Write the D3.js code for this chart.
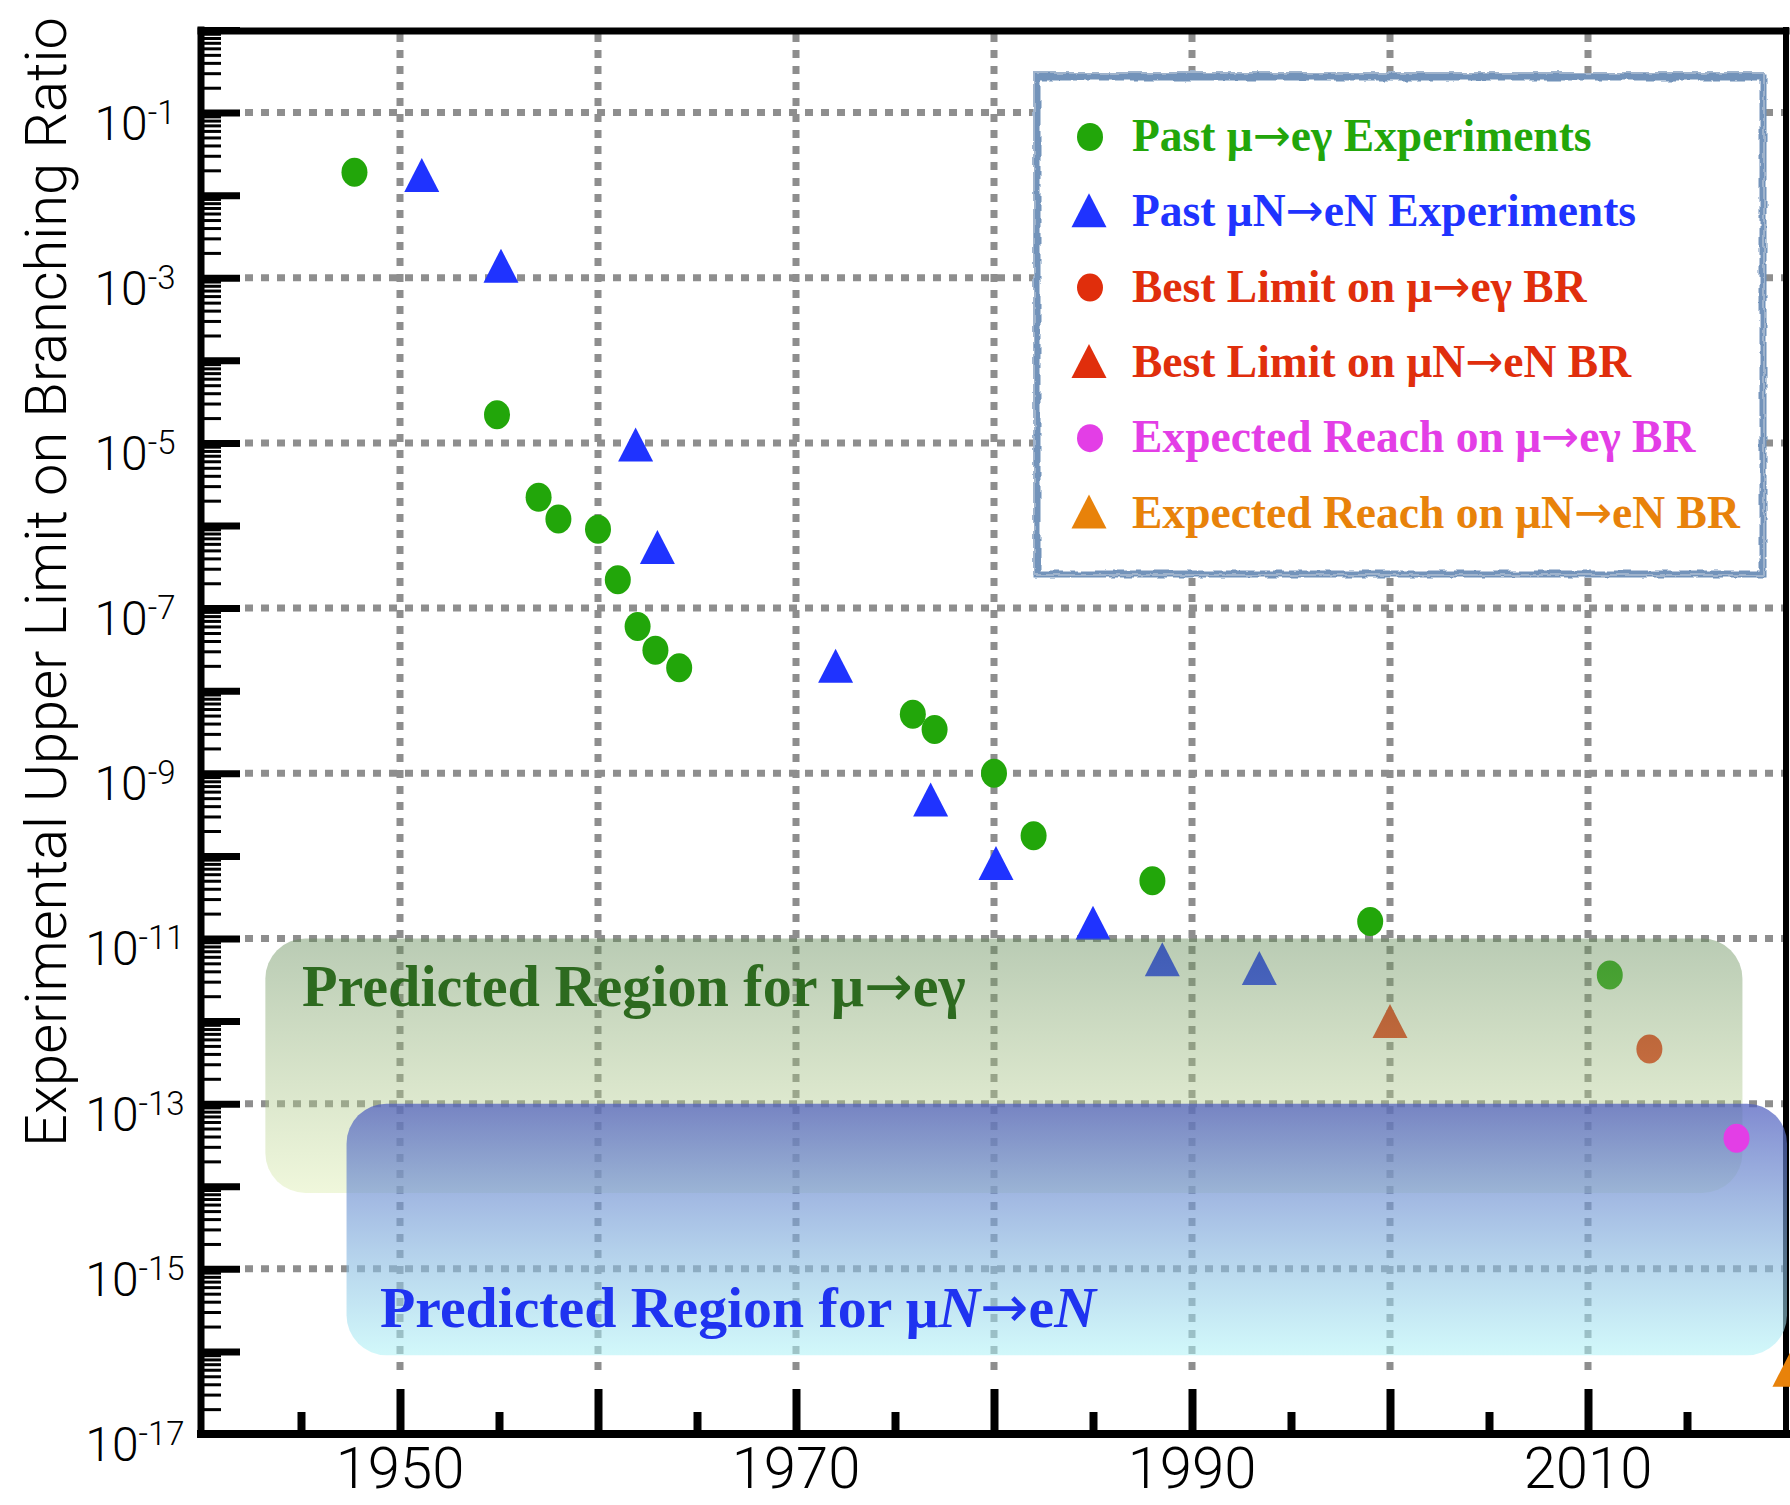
<!DOCTYPE html>
<html>
<head>
<meta charset="utf-8">
<script src="https://cdn.jsdelivr.net/npm/d3@7"></script>
<style>
  body { margin: 0; background: #ffffff; }
  svg { display: block; }
</style>
</head>
<body>
<script>
// values (year, upper limit on branching ratio)
const megYears = [1947.7, 1954.9, 1957.0, 1958.0, 1960.0, 1961.0, 1962.0, 1962.9, 1964.1, 1975.9, 1977.0, 1980.0, 1982.0, 1988.0, 1999.0, 2011.1];
const megLimits = [1.9e-2, 2.2e-5, 2.2e-6, 1.2e-6, 9e-7, 2.2e-7, 6e-8, 3.1e-8, 1.9e-8, 5.2e-9, 3.4e-9, 1e-9, 1.75e-10, 5e-11, 1.6e-11, 3.6e-12];

const mueYears = [1951.1, 1955.1, 1961.9, 1963.0, 1972.0, 1976.8, 1980.1, 1985.0, 1988.5, 1993.4];
const mueLimits = [1.75e-2, 1.4e-3, 9.6e-6, 5.5e-7, 2e-8, 4.8e-10, 8.2e-11, 1.55e-11, 5.6e-12, 4.4e-12];

const bestMegYears = [2013.1];
const bestMegLimits = [4.6e-13];
const bestMueYears = [2000.0];
const bestMueLimits = [1e-12];
const reachMegYears = [2017.5];
const reachMegLimits = [3.8e-14];
const reachMueYears = [2020.2];
const reachMueLimits = [6e-17];

// predicted regions
const regionLabels = ["Predicted Region for μ→eγ", "Predicted Region for μN→eN"];
const regionFrom = [1943.2, 1947.3];
const regionTo = [2017.8, 2020.05];
const regionTop = [1e-11, 1e-13];
const regionBottom = [8.3e-15, 9e-17];

// legend
const legendLabels = [
  "Past μ→eγ Experiments",
  "Past μN→eN Experiments",
  "Best Limit on μ→eγ BR",
  "Best Limit on μN→eN BR",
  "Expected Reach on μ→eγ BR",
  "Expected Reach on μN→eN BR"
];
const legendShapes = ["circle", "triangle", "circle", "triangle", "circle", "triangle"];
const legendColors = ["#22a60a", "#1f33ff", "#e02e0c", "#e02e0c", "#e33ee6", "#e8820a"];

// ticks
const yearMajor = [1950, 1960, 1970, 1980, 1990, 2000, 2010];
const yearMinor = [1945, 1955, 1965, 1975, 1985, 1995, 2005, 2015];
const yearLabels = [1950, 1970, 1990, 2010];
const labelExponents = [-1, -3, -5, -7, -9, -11, -13, -15, -17];
const gridExponents = [-1, -3, -5, -7, -9, -11, -13, -15];

const width = 1790;
const height = 1505;
const sans = "Roboto, 'Liberation Sans', Arial, sans-serif";
const serif = "'Liberation Serif', 'DejaVu Serif', serif";

let x = d3.scaleLinear().domain([1940, 2020]).range([202, 1786]);
let y = d3.scaleLog().domain([1e-17, 1]).range([1434, 30]);

let svg = d3
  .select("body")
  .append("svg")
  .attr("width", width)
  .attr("height", height);

svg.append("rect").attr("width", width).attr("height", height).attr("fill", "#fff");

let defs = svg.append("defs");

// gradients for the two predicted regions
let gGreen = defs.append("linearGradient").attr("id", "gradGreen")
  .attr("x1", 0).attr("y1", 0).attr("x2", 0).attr("y2", 1);
gGreen.append("stop").attr("offset", 0).attr("stop-color", "rgb(100,140,88)").attr("stop-opacity", 0.45);
gGreen.append("stop").attr("offset", 1).attr("stop-color", "rgb(218,236,170)").attr("stop-opacity", 0.42);

let gBlue = defs.append("linearGradient").attr("id", "gradBlue")
  .attr("x1", 0).attr("y1", 0).attr("x2", 0).attr("y2", 1);
gBlue.append("stop").attr("offset", 0).attr("stop-color", "rgb(78,92,190)").attr("stop-opacity", 0.72);
gBlue.append("stop").attr("offset", 1).attr("stop-color", "rgb(172,242,246)").attr("stop-opacity", 0.55);

// sketchy border for legend box
let rough = defs.append("filter").attr("id", "rough")
  .attr("x", "-3%").attr("y", "-3%").attr("width", "106%").attr("height", "106%");
rough.append("feTurbulence").attr("type", "fractalNoise").attr("baseFrequency", "0.09")
  .attr("numOctaves", 2).attr("seed", 4).attr("result", "noise");
rough.append("feDisplacementMap").attr("in", "SourceGraphic").attr("in2", "noise")
  .attr("scale", 5).attr("xChannelSelector", "R").attr("yChannelSelector", "G");

let x0 = x.range()[0], x1 = x.range()[1];
let yTop = y.range()[1], yBot = y.range()[0];

// dotted grid
let grid = svg.append("g").attr("stroke", "#8e8e8e").attr("stroke-width", 7)
  .attr("stroke-dasharray", "8,8");
grid.selectAll(".hgrid").data(gridExponents).join("line")
  .attr("class", "hgrid")
  .attr("x1", x0 + 43).attr("x2", x1 - 3)
  .attr("y1", (d) => y(Math.pow(10, d))).attr("y2", (d) => y(Math.pow(10, d)));
grid.selectAll(".vgrid").data(yearMajor).join("line")
  .attr("class", "vgrid")
  .attr("x1", (d) => x(d)).attr("x2", (d) => x(d))
  .attr("y1", yTop + 4).attr("y2", yBot - 56);

// axes: ticks point inward
let decades = d3.range(0, -18, -1).map((e) => Math.pow(10, e));
let minors = [];
for (let e = 0; e > -17; e--) {
  for (let k = 2; k <= 9; k++) minors.push(k * Math.pow(10, e - 1));
}

let styleTicks = (g, w) => {
  g.select(".domain").remove();
  g.selectAll(".tick line").attr("stroke", "#000").attr("stroke-width", w);
  g.selectAll(".tick text").remove();
};

svg.append("g").attr("transform", `translate(${x0 - 1},0)`)
  .call(d3.axisRight(y).tickValues(minors).tickSize(20).tickFormat(""))
  .call((g) => styleTicks(g, 3));
svg.append("g").attr("transform", `translate(${x0 - 1},0)`)
  .call(d3.axisRight(y).tickValues(decades).tickSize(39).tickFormat(""))
  .call((g) => styleTicks(g, 7));
svg.append("g").attr("transform", `translate(0,${yBot})`)
  .call(d3.axisTop(x).tickValues(yearMinor).tickSize(22).tickFormat(""))
  .call((g) => styleTicks(g, 8));
svg.append("g").attr("transform", `translate(0,${yBot})`)
  .call(d3.axisTop(x).tickValues(yearMajor).tickSize(45).tickFormat(""))
  .call((g) => styleTicks(g, 8));

// frame
let frame = svg.append("g").attr("stroke", "#000").attr("stroke-linecap", "square");
frame.append("line").attr("x1", x0 - 1).attr("x2", x0 - 1).attr("y1", yTop).attr("y2", yBot).attr("stroke-width", 7);
frame.append("line").attr("x1", x0 - 1).attr("x2", x1).attr("y1", yBot).attr("y2", yBot).attr("stroke-width", 8);
frame.append("line").attr("x1", x0 - 1).attr("x2", x1).attr("y1", yTop + 1).attr("y2", yTop + 1).attr("stroke-width", 7);
frame.append("line").attr("x1", x1).attr("x2", x1).attr("y1", yTop).attr("y2", yBot).attr("stroke-width", 6);

// marker shapes
let tri = (b, h) => `M0,${-h / 2}L${b / 2},${h / 2}L${-b / 2},${h / 2}Z`;
let drawPoints = (years, limits, shape, color) => {
  let g = svg.append("g");
  let pts = years.map((yr, i) => [yr, limits[i]]);
  if (shape === "circle") {
    g.selectAll("ellipse").data(pts).join("ellipse")
      .attr("cx", (d) => x(d[0])).attr("cy", (d) => y(d[1]))
      .attr("rx", 13).attr("ry", 14.5).attr("fill", color);
  } else {
    g.selectAll("path").data(pts).join("path")
      .attr("transform", (d) => `translate(${x(d[0])},${y(d[1])})`)
      .attr("d", tri(35, 34)).attr("fill", color);
  }
};

drawPoints(megYears, megLimits, "circle", legendColors[0]);
drawPoints(mueYears, mueLimits, "triangle", legendColors[1]);
drawPoints(bestMegYears, bestMegLimits, "circle", legendColors[2]);
drawPoints(bestMueYears, bestMueLimits, "triangle", legendColors[3]);
drawPoints(reachMueYears, reachMueLimits, "triangle", legendColors[5]);

// predicted regions sit over the points
let regionFills = ["url(#gradGreen)", "url(#gradBlue)"];
svg.append("g").selectAll("rect").data(regionLabels).join("rect")
  .attr("x", (d, i) => x(regionFrom[i]))
  .attr("y", (d, i) => y(regionTop[i]))
  .attr("width", (d, i) => x(regionTo[i]) - x(regionFrom[i]))
  .attr("height", (d, i) => y(regionBottom[i]) - y(regionTop[i]))
  .attr("rx", 40).attr("ry", 40)
  .attr("fill", (d, i) => regionFills[i]);

drawPoints(reachMegYears, reachMegLimits, "circle", legendColors[4]);

// helper: scale font size so text spans a given width
let fitWidth = (sel, target) => {
  let w = sel.node().getComputedTextLength();
  let fs = parseFloat(sel.attr("font-size"));
  sel.attr("font-size", (fs * target) / w);
};

// fill a text node, giving arrows a long thin glyph and (optionally) italic N
let richText = (sel, str, italicN) => {
  str.split("→").forEach((chunk, j, all) => {
    let pieces = italicN ? chunk.split("N") : [chunk];
    pieces.forEach((p, k) => {
      if (p) sel.append("tspan").text(p);
      if (k < pieces.length - 1) sel.append("tspan").attr("font-style", "italic").text("N");
    });
    if (j < all.length - 1) {
      sel.append("tspan")
        .attr("font-family", "'DejaVu Sans', sans-serif")
        .attr("font-weight", "normal")
        .text("→");
    }
  });
};

// region labels
let gText = svg.append("text")
  .attr("x", 302).attr("y", 1006)
  .attr("font-family", serif).attr("font-weight", "bold").attr("font-size", 54)
  .attr("fill", "#2d6a1f");
richText(gText, regionLabels[0], false);
fitWidth(gText, 664);

let bText = svg.append("text")
  .attr("x", 380).attr("y", 1327)
  .attr("font-family", serif).attr("font-weight", "bold").attr("font-size", 54)
  .attr("fill", "#1f33f0");
richText(bText, regionLabels[1], true);
fitWidth(bText, 716);

// legend
let legend = svg.append("g");
legend.append("rect")
  .attr("x", 1037).attr("y", 77).attr("width", 726).attr("height", 497)
  .attr("fill", "#fff");
legend.append("rect")
  .attr("x", 1037).attr("y", 77).attr("width", 726).attr("height", 497)
  .attr("fill", "none").attr("stroke", "#7393ba").attr("stroke-width", 7)
  .attr("filter", "url(#rough)");
legend.append("rect")
  .attr("x", 1034).attr("y", 73).attr("width", 730).attr("height", 502)
  .attr("fill", "none").attr("stroke", "#9fb3cc").attr("stroke-width", 2)
  .attr("filter", "url(#rough)");

let rowY = (i) => 137 + i * 75.3;
let rows = legend.selectAll(".row").data(legendLabels).join("g")
  .attr("class", "row")
  .attr("transform", (d, i) => `translate(0,${rowY(i)})`);
rows.filter((d, i) => legendShapes[i] === "circle").append("ellipse")
  .attr("cx", 1090).attr("cy", 0).attr("rx", 13).attr("ry", 14)
  .attr("fill", (d) => legendColors[legendLabels.indexOf(d)]);
rows.filter((d, i) => legendShapes[i] === "triangle").append("path")
  .attr("transform", "translate(1089,-2)")
  .attr("d", tri(35, 34))
  .attr("fill", (d) => legendColors[legendLabels.indexOf(d)]);
let legendText = rows.append("text")
  .attr("x", 1132).attr("y", 14)
  .attr("font-family", serif).attr("font-weight", "bold").attr("font-size", 40)
  .attr("fill", (d, i) => legendColors[i]);
legendText.each(function (d) {
  richText(d3.select(this), d, false);
});
// one size for all rows, set from the longest one
let longest = legendText.filter((d, i) => i === 5);
fitWidth(longest, 608);
legendText.attr("font-size", longest.attr("font-size"));

// y tick labels 10^n
let yLab = svg.append("g").selectAll("text").data(labelExponents).join("text")
  .attr("x", 135).attr("y", (d) => y(Math.pow(10, d)) + 27)
  .attr("text-anchor", "middle")
  .attr("font-family", sans).attr("font-weight", 300).attr("font-size", 48)
  .attr("fill", "#000");
yLab.append("tspan").text("10");
yLab.append("tspan").attr("dy", -16).attr("font-size", 33).text((d) => "-" + Math.abs(d));

// x tick labels (kept fully inside the page)
svg.append("g").selectAll("text").data(yearLabels).join("text")
  .attr("x", (d) => x(d)).attr("y", 1488)
  .attr("text-anchor", "middle")
  .attr("font-family", sans).attr("font-weight", 300).attr("font-size", 58)
  .attr("fill", "#000")
  .text((d) => d);

// y axis title
let yTitle = svg.append("text")
  .attr("transform", "translate(66,582) rotate(-90)")
  .attr("text-anchor", "middle")
  .attr("font-family", sans).attr("font-weight", 300).attr("font-size", 56)
  .attr("fill", "#000")
  .text("Experimental Upper Limit on Branching Ratio");
fitWidth(yTitle, 1130);
</script>
</body>
</html>
